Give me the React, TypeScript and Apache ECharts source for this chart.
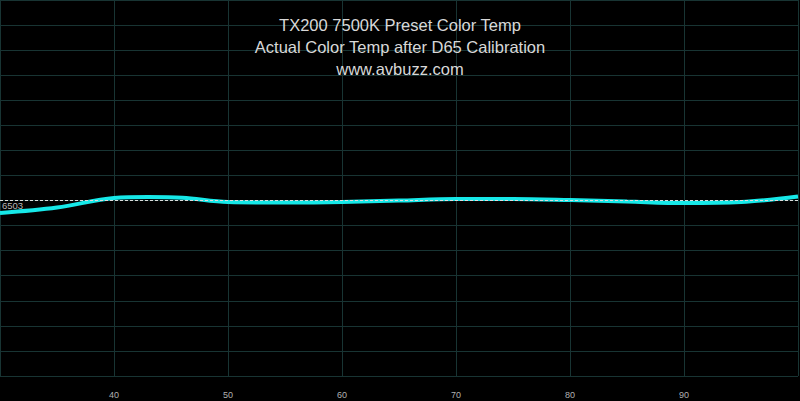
import React, { useEffect, useRef } from "react";
import * as echarts from "echarts";

const xValues = [30, 35, 40, 43, 46, 50, 55, 60, 65, 70, 75, 80, 85, 90, 95, 100];
const colorTemp = [6450, 6472, 6510, 6514, 6511, 6494, 6492, 6494, 6500, 6506, 6506, 6502, 6496, 6490, 6494, 6516];
const targetTemp = 6503;
const titleLines = ["TX200 7500K Preset Color Temp", "Actual Color Temp after D65 Calibration", "www.avbuzz.com"];

export default function App() {
  const ref = useRef<HTMLDivElement>(null);
  useEffect(() => {
    if (!ref.current) return;
    const chart = echarts.init(ref.current, undefined, { renderer: "svg" });
    const grid = "#183433";
    chart.setOption({
      animation: false,
      backgroundColor: "#000",
      title: {
        text: titleLines.join("\n"),
        left: "center",
        top: 9,
        textStyle: {
          color: "#d8d8d8",
          fontFamily: "Liberation Sans, Arial, sans-serif",
          fontSize: 16.5,
          fontWeight: "normal",
          lineHeight: 22,
        },
      },
      grid: { left: 0, right: 2, top: 0, bottom: 25 },
      xAxis: {
        type: "value",
        min: 30,
        max: 100,
        interval: 10,
        axisLine: { show: false },
        axisTick: { show: false },
        axisLabel: {
          color: "#b0b0b0",
          fontSize: 9,
          fontFamily: "Liberation Sans, Arial, sans-serif",
          showMinLabel: false,
          showMaxLabel: false,
          margin: 14,
        },
        splitLine: { show: true, lineStyle: { color: grid, width: 1 } },
      },
      yAxis: {
        type: "value",
        min: 5800,
        max: 7300,
        interval: 100,
        axisLine: { show: false },
        axisTick: { show: false },
        axisLabel: { show: false },
        splitLine: { show: true, lineStyle: { color: grid, width: 1 } },
      },
      series: [
        {
          type: "line",
          data: xValues.map((x, i) => [x, colorTemp[i]]),
          smooth: 0.35,
          symbol: "none",
          lineStyle: { color: "#16e8e8", width: 4 },
          markLine: {
            silent: true,
            symbol: ["none", "none"],
            data: [{ yAxis: targetTemp }],
            lineStyle: { color: "#dddddd", type: [3, 2], width: 1 },
            label: {
              show: true,
              position: "insideStartBottom",
              formatter: String(targetTemp),
              color: "#b8b8b8",
              fontSize: 9.5,
              fontFamily: "Liberation Sans, Arial, sans-serif",
              distance: [2, 1],
            },
          },
        },
      ],
    });
    return () => chart.dispose();
  }, []);
  return (
    <div
      ref={ref}
      style={{ position: "fixed", left: 0, top: 0, width: 800, height: 401 }}
    />
  );
}
